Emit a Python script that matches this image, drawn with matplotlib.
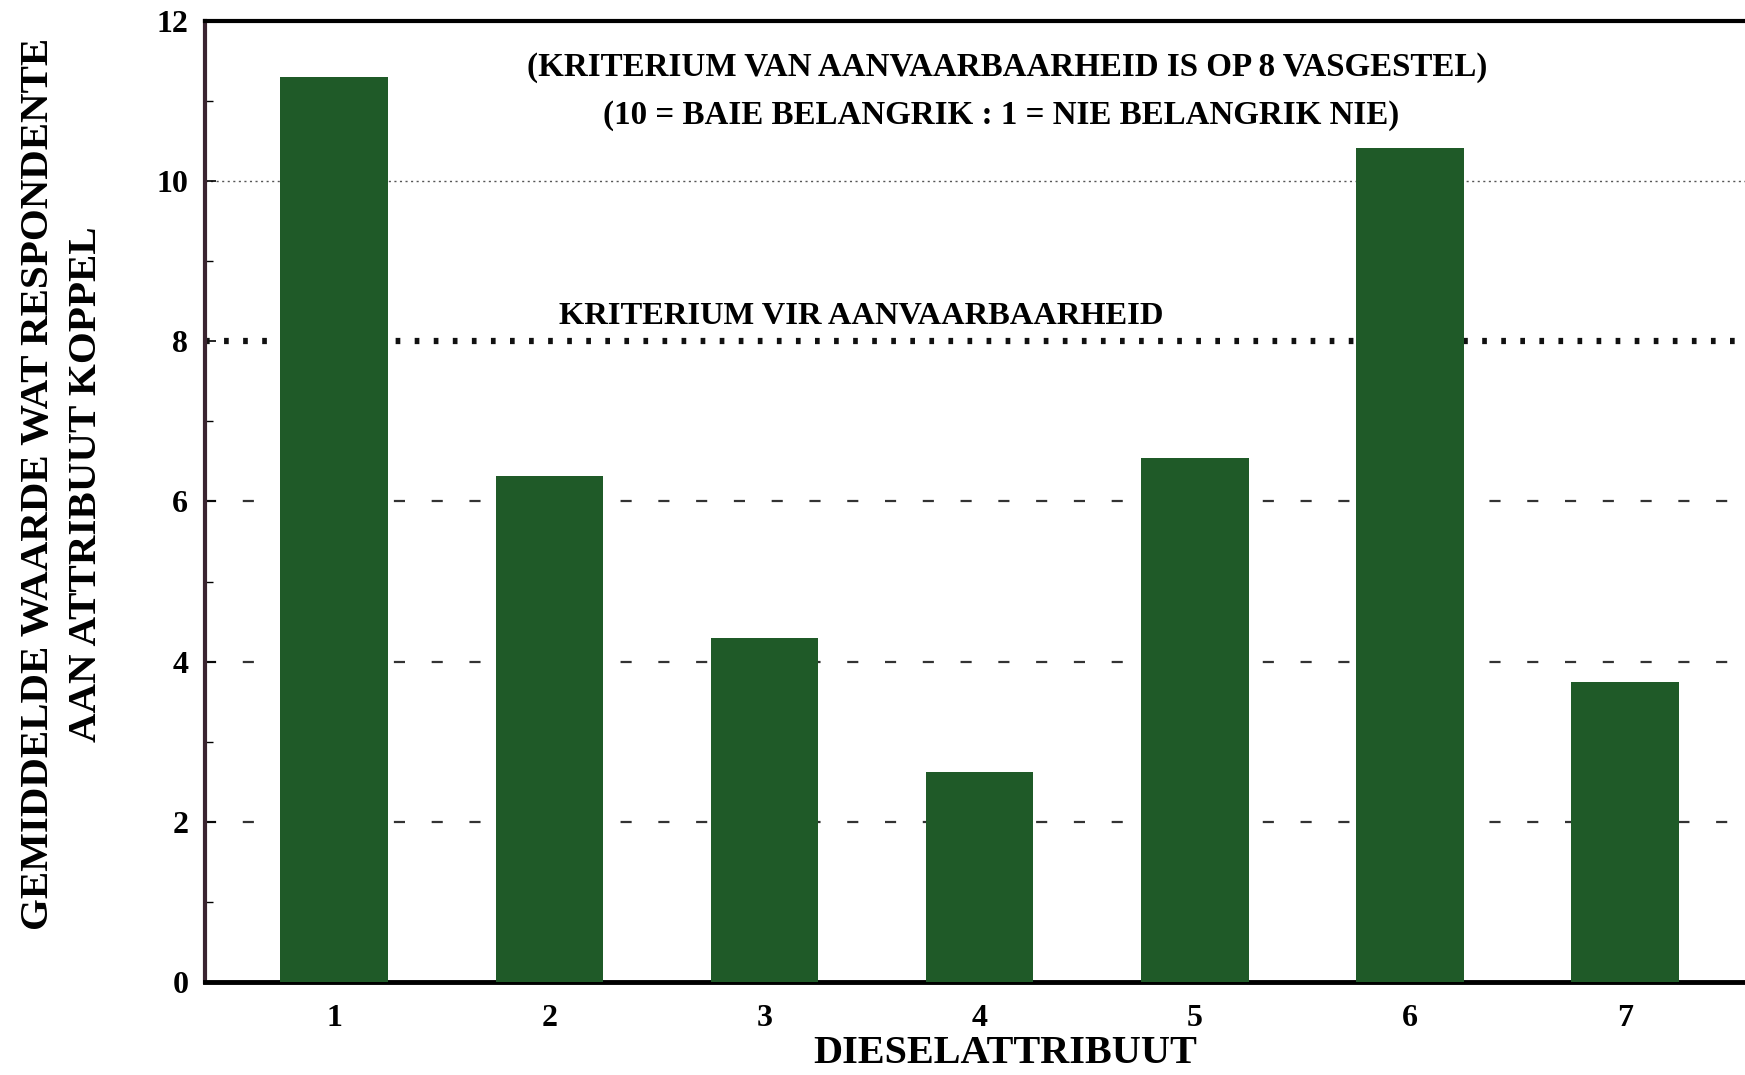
import matplotlib
matplotlib.use("Agg")
import matplotlib.pyplot as plt

categories = [1, 2, 3, 4, 5, 6, 7]
values = [11.3, 6.32, 4.3, 2.62, 6.54, 10.42, 3.74]
yticks = [0, 2, 4, 6, 8, 10, 12]
criterion = 8

title1 = "(KRITERIUM VAN AANVAARBAARHEID IS OP 8 VASGESTEL)"
title2 = "(10 = BAIE BELANGRIK : 1 = NIE BELANGRIK NIE)"
crit_label = "KRITERIUM VIR AANVAARBAARHEID"
xlabel = "DIESELATTRIBUUT"
ylabel = "GEMIDDELDE WAARDE WAT RESPONDENTE\nAAN ATTRIBUUT KOPPEL"

plt.rcParams['font.family'] = ['Liberation Serif', 'DejaVu Serif']
plt.rcParams['font.weight'] = 'bold'

fig = plt.figure(figsize=(17.45, 10.75), dpi=100)
ax = fig.add_axes([0.1175, 0.0865, 0.8825, 0.894])

ax.bar(categories, values, width=0.5, color='#1f5a28', zorder=3)

ax.set_xlim(0.4, 7.557)
ax.set_ylim(0, 12)

# gridlines
ax.axhline(10, color='#555555', lw=1.0, ls=(0, (1.5, 2.5)), zorder=1)
for g in [2, 4, 6]:
    ax.axhline(g, color='#333333', lw=1.6, ls=(0, (5, 12)), zorder=1)
ax.axhline(criterion, color='#111111', lw=4.5, ls=(0, (0.75, 2.3)), zorder=2)

ax.set_yticks(yticks)
ax.set_yticks([1, 3, 5, 7, 9, 11], minor=True)
ax.set_xticks(categories)
ax.tick_params(axis='y', which='major', direction='in', length=8, width=1.2,
               labelsize=23, pad=12)
ax.tick_params(axis='y', which='minor', direction='in', length=6, width=1.0)
ax.tick_params(axis='x', which='major', length=0, labelsize=23, pad=16)
for lab in ax.get_xticklabels() + ax.get_yticklabels():
    lab.set_fontweight('bold')

ax.spines['left'].set_color('#3a2430')
ax.spines['left'].set_linewidth(3)
ax.spines['bottom'].set_color('black')
ax.spines['bottom'].set_linewidth(3.5)
ax.spines['top'].set_color('black')
ax.spines['top'].set_linewidth(3)
ax.spines['right'].set_visible(False)

ax.text(4.13, 11.42, title1, ha='center', va='center', fontsize=23.8, fontweight='bold')
ax.text(4.1, 10.82, title2, ha='center', va='center', fontsize=23.8, fontweight='bold')
ax.text(3.45, 8.31, crit_label, ha='center', va='center', fontsize=23.4, fontweight='bold')

fig.text(0.576, 0.003, xlabel, ha='center', va='bottom', fontsize=29, fontweight='bold')
fig.text(0.036, 0.55, ylabel, ha='center', va='center', rotation=90,
         fontsize=29.5, fontweight='bold', linespacing=1.4, multialignment='center')

fig.savefig("out.png", dpi=100, facecolor='white')
